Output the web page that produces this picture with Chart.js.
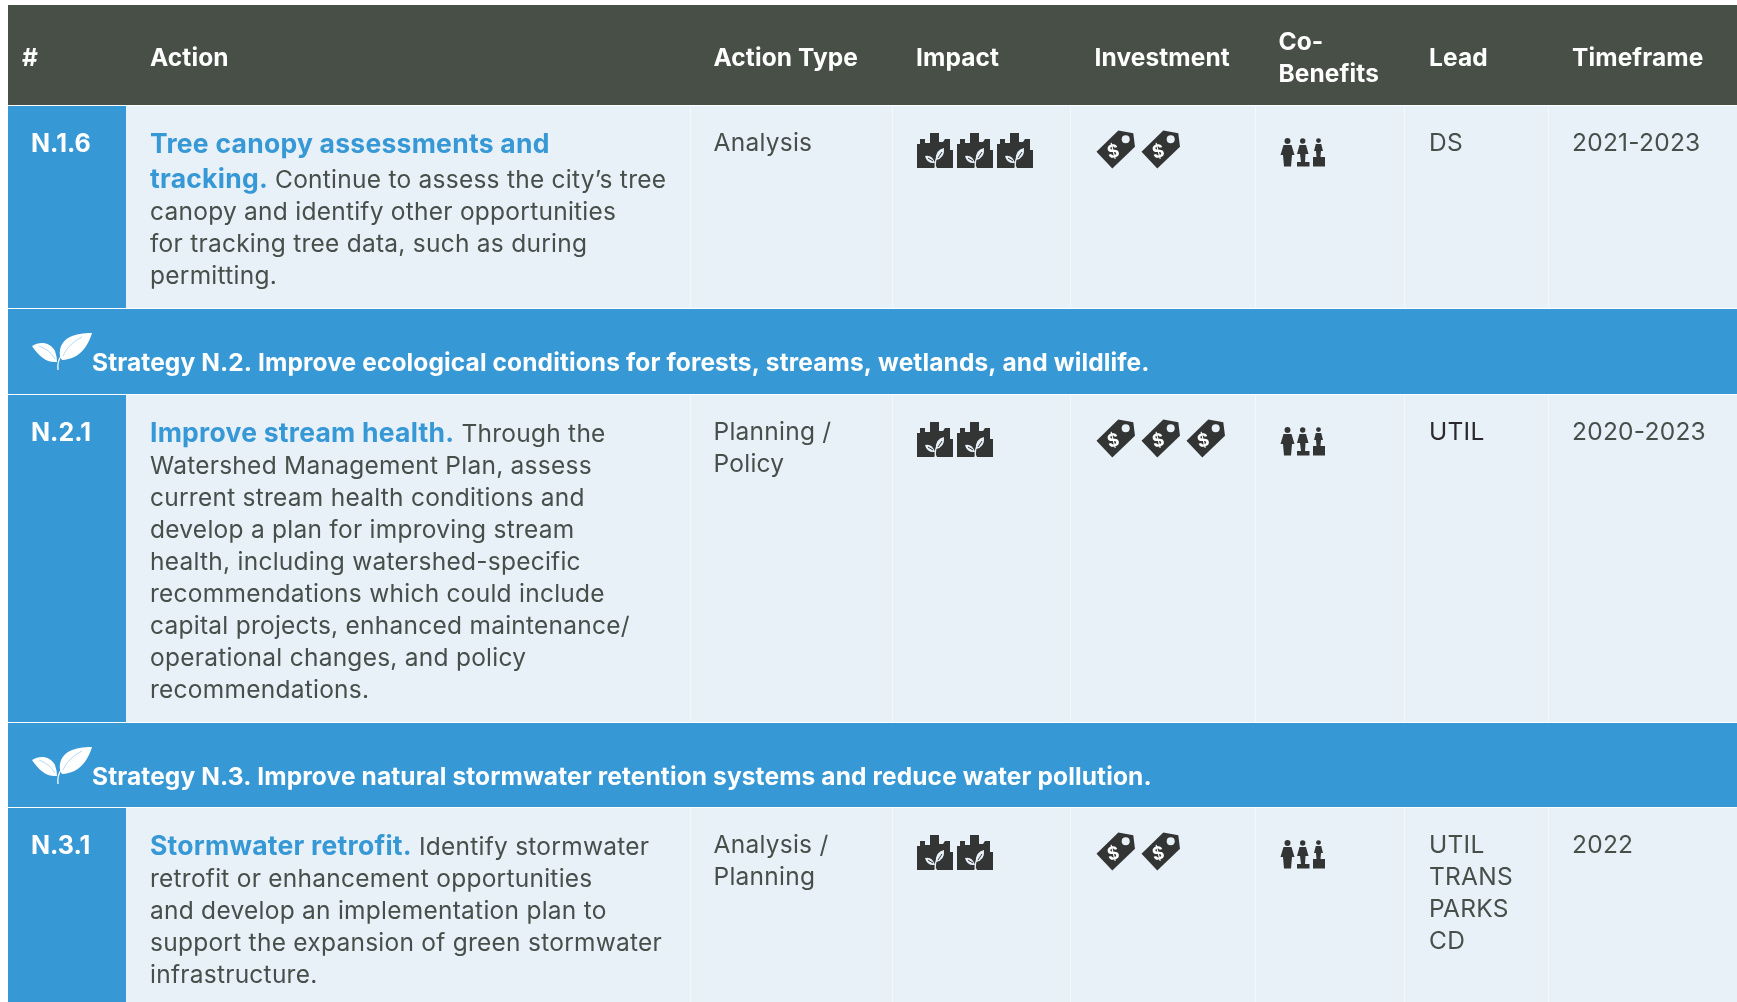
<!DOCTYPE html>
<html>
<head>
<meta charset="utf-8">
<title>Nature actions table</title>
<script src="https://cdn.jsdelivr.net/npm/chart.js@4"></script>
<style>
  html, body { margin: 0; padding: 0; background: #fff; overflow: hidden; }
  canvas { display: block; }
</style>
</head>
<body>
<canvas id="table-chart" width="1737" height="1002"></canvas>
<script>
// table content
const headers = ['#', 'Action', 'Action Type', 'Impact', 'Investment', ['Co-', 'Benefits'], 'Lead', 'Timeframe'];
const rowIds = ['N.1.6', 'N.2.1', 'N.3.1'];
const actionTitles = [
  ['Tree canopy assessments and', 'tracking.'],
  ['Improve stream health.'],
  ['Stormwater retrofit.']
];
const actionBodies = [
  ['Continue to assess the city’s tree', 'canopy and identify other opportunities', 'for tracking tree data, such as during', 'permitting.'],
  ['Through the', 'Watershed Management Plan, assess', 'current stream health conditions and', 'develop a plan for improving stream', 'health, including watershed-specific', 'recommendations which could include', 'capital projects, enhanced maintenance/', 'operational changes, and policy', 'recommendations.'],
  ['Identify stormwater', 'retrofit or enhancement opportunities', 'and develop an implementation plan to', 'support the expansion of green stormwater', 'infrastructure.']
];
const actionTypes = [['Analysis'], ['Planning /', 'Policy'], ['Analysis /', 'Planning']];
const impactCounts = [3, 2, 2];
const investmentCounts = [2, 3, 2];
const coBenefitCounts = [1, 1, 1];
const leads = [['DS'], ['UTIL'], ['UTIL', 'TRANS', 'PARKS', 'CD']];
const timeframes = ['2021-2023', '2020-2023', '2022'];
const strategies = [
  'Strategy N.2. Improve ecological conditions for forests, streams, wetlands, and wildlife.',
  'Strategy N.3. Improve natural stormwater retention systems and reduce water pollution.'
];

// table layout, in axis units
const colEdges = [8, 126, 691, 893, 1071, 1256, 1405, 1549, 1737];
const colText = [22, 150, 713.5, 916, 1094.5, 1278.5, 1429, 1572];
const headerBand = [5, 105];
const rowBands = [[106, 308], [395, 722], [808, 1002]];
const strategyBands = [[309, 394], [723, 807]];

const BLUE = '#3798d6';
const CELL = '#e8f0f8';
const RULE = '#f5f8fb';
const HEADER = '#474f46';
const TEXT = '#464f49';
const DARK_TEXT = '#2a2a2e';
const ICON = '#333535';
const FONT = 'Inter';

function cellDataset(x0, x1, band, color) {
  // a two point line filled down to the other edge of the band
  return {
    data: [{ x: x0, y: band[0] }, { x: x1, y: band[0] }],
    borderWidth: 0,
    pointRadius: 0,
    backgroundColor: color,
    fill: { target: { value: band[1] } },
    order: 10
  };
}

function iconDataset(points, icon) {
  return { data: points, showLine: false, pointStyle: icon, pointRadius: 5, order: 1 };
}

function makeIcon(w, h, draw) {
  const c = document.createElement('canvas');
  c.width = w;
  c.height = h;
  draw(c.getContext('2d'));
  return c;
}

function poly(ctx, pts) {
  ctx.beginPath();
  pts.forEach((p, i) => i ? ctx.lineTo(p[0], p[1]) : ctx.moveTo(p[0], p[1]));
  ctx.closePath();
  ctx.fill();
}

const cityIcon = makeIcon(36, 36, ctx => {
  ctx.fillStyle = ICON;
  poly(ctx, [[0, 35], [0, 11], [3, 11], [3, 6], [8, 6], [8, 10], [13, 10], [13, 0], [22, 0], [22, 9], [26, 9], [28, 6], [33, 6], [33, 17], [36, 17], [36, 35], [20, 35], [19, 33], [17, 35]]);
  // sprout is cut out so the cell colour shows through
  ctx.globalCompositeOperation = 'destination-out';
  ctx.beginPath();
  ctx.moveTo(18, 30);
  ctx.quadraticCurveTo(15, 21, 8, 23);
  ctx.quadraticCurveTo(10, 31, 18, 30);
  ctx.fill();
  ctx.beginPath();
  ctx.moveTo(19, 27);
  ctx.quadraticCurveTo(18, 17, 27, 15);
  ctx.quadraticCurveTo(28, 25, 19, 27);
  ctx.fill();
  ctx.lineWidth = 1.4;
  ctx.beginPath();
  ctx.moveTo(18.5, 35);
  ctx.quadraticCurveTo(17.5, 29, 20, 24);
  ctx.stroke();
  // veins back in the icon colour
  ctx.globalCompositeOperation = 'source-over';
  ctx.strokeStyle = ICON;
  ctx.lineWidth = 1;
  ctx.beginPath();
  ctx.moveTo(16, 28);
  ctx.lineTo(11, 25);
  ctx.moveTo(21, 25);
  ctx.lineTo(25, 19);
  ctx.stroke();
});

const tagIcon = makeIcon(40, 40, ctx => {
  ctx.fillStyle = ICON;
  poly(ctx, [[0.5, 21.7], [22.3, 0.5], [37.3, 3.3], [39, 16.7], [16.3, 38.5]]);
  ctx.fillStyle = CELL;
  ctx.beginPath();
  ctx.arc(29.7, 9.3, 4, 0, Math.PI * 2);
  ctx.fill();
  ctx.fillStyle = '#fff';
  ctx.font = 'bold 18px ' + FONT;
  ctx.textAlign = 'center';
  ctx.translate(17, 21);
  ctx.rotate(-0.25);
  ctx.fillText('$', 0, 6.5);
});

const peopleIcon = makeIcon(46, 30, ctx => {
  ctx.fillStyle = ICON;
  const head = (x, y, r) => { ctx.beginPath(); ctx.arc(x, y, r, 0, Math.PI * 2); ctx.fill(); };
  head(7.5, 3, 3);
  poly(ctx, [[3.5, 7], [11.5, 7], [14.5, 17], [12, 17], [11, 28.5], [4, 28.5], [3, 17], [0.5, 17]]);
  head(22.7, 3, 2.7);
  poly(ctx, [[19.5, 7], [26, 7], [28.5, 16], [25.5, 16], [25, 24], [21, 24], [20, 16], [17, 16]]);
  ctx.fillRect(17, 24, 12.5, 4.5);
  head(38.5, 2.6, 2.4);
  poly(ctx, [[35.8, 6], [41.2, 6], [43, 13], [41, 13], [40.5, 19], [36.5, 19], [36, 13], [34, 13]]);
  ctx.fillRect(33, 19, 12, 9.5);
});

const leafIcon = makeIcon(60, 40, ctx => {
  ctx.fillStyle = '#fff';
  // big leaf
  ctx.beginPath();
  ctx.moveTo(60, 1);
  ctx.bezierCurveTo(42, 1, 30, 6, 28, 18);
  ctx.quadraticCurveTo(27, 24, 30, 28);
  ctx.bezierCurveTo(48, 27, 56, 14, 60, 1);
  ctx.fill();
  // small leaf
  ctx.beginPath();
  ctx.moveTo(0, 14);
  ctx.bezierCurveTo(8, 9, 18, 10, 23, 19);
  ctx.quadraticCurveTo(25, 25, 25, 30);
  ctx.bezierCurveTo(14, 31, 7, 24, 0, 14);
  ctx.fill();
  // faint veins
  ctx.globalCompositeOperation = 'destination-out';
  ctx.strokeStyle = 'rgba(0,0,0,0.45)';
  ctx.lineWidth = 0.8;
  ctx.beginPath();
  ctx.moveTo(31, 24);
  ctx.quadraticCurveTo(36, 12, 50, 5);
  ctx.moveTo(23, 27);
  ctx.quadraticCurveTo(18, 18, 7, 14);
  ctx.stroke();
  ctx.globalCompositeOperation = 'source-over';
  // stem
  ctx.strokeStyle = '#fff';
  ctx.lineWidth = 1.3;
  ctx.beginPath();
  ctx.moveTo(26, 38);
  ctx.quadraticCurveTo(25, 30, 29, 24);
  ctx.stroke();
});

const datasets = [];

// header band and strategy bands
datasets.push(cellDataset(colEdges[0], colEdges[8], headerBand, HEADER));
strategyBands.forEach(band => datasets.push(cellDataset(colEdges[0], colEdges[8], band, BLUE)));

// one cell per row and column, columns keep a one unit rule between them
rowBands.forEach(band => {
  datasets.push(cellDataset(colEdges[0], colEdges[1], band, BLUE));
  for (let c = 1; c < 8; c++) {
    datasets.push(cellDataset(colEdges[c], colEdges[c + 1] - (c < 7 ? 1 : 0), band, CELL));
    if (c < 7) datasets.push(cellDataset(colEdges[c + 1] - 1, colEdges[c + 1], band, RULE));
  }
});

// icons, repeated from the counts
function iconPoints(counts, col, step, rowOffset) {
  const pts = [];
  counts.forEach((n, r) => {
    for (let i = 0; i < n; i++) pts.push({ x: col + i * step, y: rowBands[r][0] + rowOffset });
  });
  return pts;
}
datasets.push(iconDataset(iconPoints(impactCounts, 935, 40, 45), cityIcon));
datasets.push(iconDataset(iconPoints(investmentCounts, 1116, 45, 44), tagIcon));
datasets.push(iconDataset(iconPoints(coBenefitCounts, 1303, 0, 47), peopleIcon));
datasets.push(iconDataset(strategyBands.map(b => ({ x: 62, y: b[0] + 43 })), leafIcon));

const textPlugin = {
  id: 'tableText',
  afterDatasetsDraw(chart) {
    const ctx = chart.ctx;
    const xs = chart.scales.x;
    const ys = chart.scales.y;
    const put = (str, x, y, font, color, spacing) => {
      ctx.font = font;
      ctx.fillStyle = color;
      ctx.letterSpacing = (spacing || 0) + 'px';
      ctx.fillText(str, xs.getPixelForValue(x), ys.getPixelForValue(y));
      return ctx.measureText(str).width;
    };
    ctx.save();
    ctx.textBaseline = 'alphabetic';
    ctx.textAlign = 'left';

    const headFont = '700 24.5px ' + FONT;
    const idFont = '700 25px ' + FONT;
    const titleFont = '700 26.5px ' + FONT;
    const bodyFont = '400 24.5px ' + FONT;
    const strategyFont = '700 24.5px ' + FONT;
    const bodySpace = 0.25;

    headers.forEach((h, c) => {
      if (Array.isArray(h)) {
        h.forEach((line, i) => put(line, colText[c], 50 + i * 32, headFont, '#fff', 0.1));
      } else {
        put(h, colText[c], 66, headFont, '#fff', 0.1);
      }
    });

    strategies.forEach((s, i) => put(s, 92, strategyBands[i][0] + 61.5, strategyFont, '#fff', 0.11));

    rowIds.forEach((id, r) => {
      const top = rowBands[r][0];
      put(id, 31, top + 45.5, idFont, '#fff');

      // action text, the body starts on the last title line
      const titles = actionTitles[r];
      let y = top + 47;
      let w = 0;
      titles.forEach((t, i) => {
        if (i > 0) y += 35;
        w = put(t, colText[1], y, titleFont, BLUE, 0.25);
      });
      actionBodies[r].forEach((line, i) => {
        if (i === 0) {
          put(line, colText[1] + w + 7, y, bodyFont, TEXT, bodySpace);
        } else {
          put(line, colText[1], y + i * 32, bodyFont, TEXT, bodySpace);
        }
      });

      actionTypes[r].forEach((line, i) => put(line, colText[2], top + 45 + i * 32, bodyFont, TEXT, bodySpace));
      // the lead in the second row is set darker in the source
      const leadColor = r === 1 ? DARK_TEXT : TEXT;
      leads[r].forEach((line, i) => put(line, colText[6], top + 45 + i * 32, bodyFont, leadColor, bodySpace));
      put(timeframes[r], colText[7], top + 45, bodyFont, TEXT, bodySpace);
    });
    ctx.restore();
  }
};

new Chart(document.getElementById('table-chart'), {
  type: 'line',
  data: { datasets },
  plugins: [textPlugin],
  options: {
    responsive: false,
    animation: false,
    layout: { padding: 0, autoPadding: false },
    plugins: { legend: { display: false }, tooltip: { enabled: false } },
    scales: {
      x: { type: 'linear', display: false, min: 0, max: 1737 },
      y: { type: 'linear', display: false, min: 0, max: 1002, reverse: true }
    }
  }
});
</script>
</body>
</html>
